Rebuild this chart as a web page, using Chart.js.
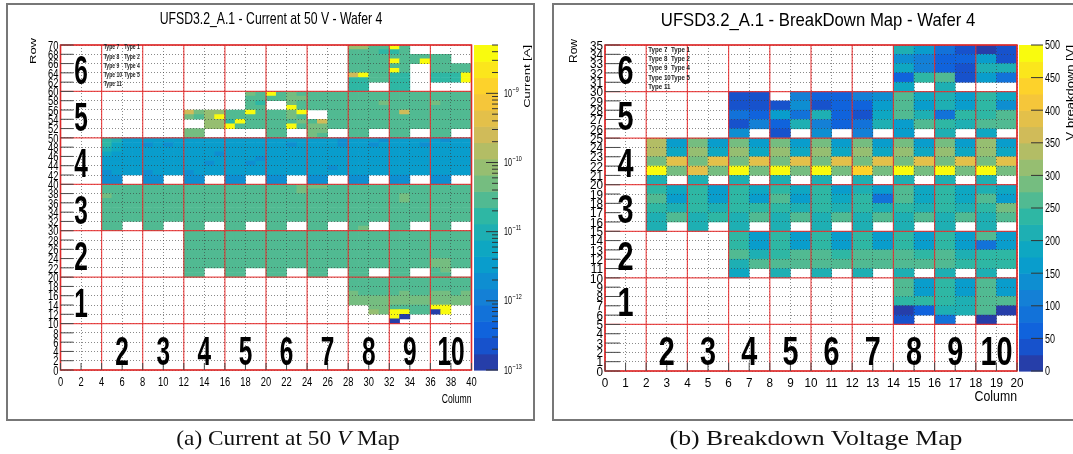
<!DOCTYPE html>
<html>
<head>
<meta charset="utf-8">
<title>UFSD3.2_A.1 - Wafer 4 maps</title>
<script src="https://cdn.jsdelivr.net/npm/chart.js@4/dist/chart.umd.min.js"></script>
<style>
  html, body { margin: 0; padding: 0; background: #fff; }
  body { position: relative; width: 1073px; height: 454px; overflow: hidden; }
  .frame { position: absolute; box-sizing: border-box; border: 2px solid #777; }
  canvas { position: absolute; top: 0; }
  .caption { position: absolute; top: 427px; font-family: "Liberation Serif", serif; font-size: 22px;
             line-height: 22px; white-space: nowrap; color: #111; }
</style>
</head>
<body>
<div class="frame" style="left:6px;top:3px;width:529px;height:418px"></div>
<div class="frame" style="left:552px;top:3px;width:540px;height:418px"></div>
<canvas id="currentMap" width="545" height="454" style="left:0"></canvas>
<canvas id="breakdownMap" width="528" height="454" style="left:545px"></canvas>
<div class="caption" style="left:288px;transform:translateX(-50%) scaleX(1.06)">(a) Current at 50 <i>V</i> Map</div>
<div class="caption" style="left:816px;transform:translateX(-50%) scaleX(1.17)">(b) Breakdown Voltage Map</div>
<script>
const _ = null;

// Current at 50 V: one string per row, from row 69 (top) down to row 0,
// 40 columns in groups of ten. Each character is the colour-scale bin of
// the cell: '.' = no value, 0-9 then a-j = bins 10-19.
const CURRENT_BINS = [
  '.......... .......... ........cc aaja......', // 69
  '.......... .......... ........aa a99a......',
  '.......... .......... ........aa aaaaaaaa..',
  '.......... .......... ........aa aajaajaa..',
  '.......... .......... ........aa aaaa..aaaa', // 65
  '.......... .......... ........aa aaja..aaaa',
  '.......... .......... ........ej aa99..999j',
  '.......... .......... ........99 aa99..999j',
  '.......... .......... ........99 ..99......',
  '.......... .......... ........99 ..99......', // 60
  '.......... ........ba jabaaaaaaa aaaaaaaaaa',
  '.......... ........aa aabbaaaaaa aaaaaaaaaa',
  '.......... ........a9 ..baaaaaaa abaaaabaaa',
  '.......... ........aa ..jaaaaaaa aaaaaaaaaa',
  '.......... ..ebccaaja aabj..aaaa aaaeaaaaaa', // 55
  '.......... ..bacjaaaa aaba..aaaa aaaaaaaaaa',
  '.......... ....cc9jaa aaabaeaaaa aaaaaaaaaa',
  '.......... ....ccjaaa aajabbaaaa aaaaaaaaaa',
  '.......... ..bb...... aa..bb..aa ..aa..aa..',
  '.......... ..bb...... aa..ba..aa ..aa..aa..', // 50
  '....986666 6666666666 6666666566 6566666566',
  '....976656 5666666666 6656666566 5666656666',
  '....876666 6666666666 6666666666 6666666666',
  '....766666 6666656666 6666666666 6666666666',
  '....666666 6666666665 6666666666 6666666666', // 45
  '....666666 6666566656 6666666666 6666666666',
  '....666666 6666666666 6666665666 6666666666',
  '....566656 6656666666 6666666666 6666666666',
  '....55..55 ..55..55.. 55..55..55 ..55..55..',
  '....55..55 ..55..55.. 55..55..55 ..55..55..', // 40
  '....aaaaaa aaaaaaaaaa aaabbbaaaa aaaaaaaaaa',
  '....aaaaaa aaaaaaaaaa aaabaaaaaa aaaaaaaaaa',
  '....baaaaa aaaaaaaaaa aaaaaaaaaa aaabaaaaaa',
  '....aaaaaa aaaaaaaaaa aaaaaaaaaa aaabaaaaaa',
  '....aaaaaa aaaaaaaaaa aaaaaaaaaa aaaaaaaaaa', // 35
  '....aaaaaa aaaaaaaaaa aaaaaaaaaa aaaaaaaaaa',
  '....aaaaaa aaaaaaaaaa aaaaaaaaaa aaaaaaaaaa',
  '....aaaaaa aaaaaaaaaa aaaaaaaaaa aaaaaaaaaa',
  '....aa..aa ..aa..aa.. aa..aa..aa ..aa..aa..',
  '....aa..aa ..aa..aa.. aa..aa..ab ..aa..aa..', // 30
  '.......... ..aaaaaaaa aaaaaaaaaa aaaaaaaaaa',
  '.......... ..aaaaaaaa aaaaaaaaaa aaaaaaaaaa',
  '.......... ..aaaaaaaa aaaaaaaaaa aaaaaaaaaa',
  '.......... ..aaaaaaaa aaaaaaaaaa aaaaaaaaaa',
  '.......... ..aaaaaaaa aaaaaaaaaa aaaaaaaaaa', // 25
  '.......... ..aaaaaaaa aaaaaaaaaa aaaaaaaaaa',
  '.......... ..aaaaaaaa aaaaaaaaaa aaaaaabbaa',
  '.......... ..aaaaaaaa aaaaaaaaaa aaaaaabbaa',
  '.......... ..aa..aa.. aa..aa..aa ..aa..ab..',
  '.......... ..aa..aa.. aa..aa..aa ..aa..aa..', // 20
  '.......... .......... ........aa aaaaaaaaaa',
  '.......... .......... ........aa aaaaaaaaaa',
  '.......... .......... ........aa aaaaaaaaaa',
  '.......... .......... ........ba aaabaabbab',
  '.......... .......... ........bb bbbbbbbbbb', // 15
  '.......... .......... ........bb bbbbbbbbbb',
  '.......... .......... .......... bbaaaajj..',
  '.......... .......... .......... cbjjaa0j..',
  '.......... .......... .......... ..j0......',
  '.......... .......... .......... ..0.......', // 10
  '.......... .......... .......... ..........',
  '.......... .......... .......... ..........',
  '.......... .......... .......... ..........',
  '.......... .......... .......... ..........',
  '.......... .......... .......... ..........', // 5
  '.......... .......... .......... ..........',
  '.......... .......... .......... ..........',
  '.......... .......... .......... ..........',
  '.......... .......... .......... ..........',
  '.......... .......... .......... ..........'  // 0
];

// Breakdown voltage [V] per pad, rows 34 (top) down to 0, columns 0-19.
const BREAKDOWN_V = [
  [_,_,_,_,_,_,_,_,_,_,_,_,_,_,210,160,85,48,20,45],          // 34
  [_,_,_,_,_,_,_,_,_,_,_,_,_,_,140,115,70,60,150,42],
  [_,_,_,_,_,_,_,_,_,_,_,_,_,_,185,105,62,40,215,205],
  [_,_,_,_,_,_,_,_,_,_,_,_,_,_,68,238,258,38,165,85],
  [_,_,_,_,_,_,_,_,_,_,_,_,_,_,185,_,212,_,_,_],              // 30
  [_,_,_,_,_,_,38,42,_,118,62,72,105,140,262,190,218,165,240,182],
  [_,_,_,_,_,_,40,48,46,135,45,70,52,155,260,160,210,165,235,145],
  [_,_,_,_,_,_,90,65,160,90,215,62,45,180,255,215,95,230,240,258],
  [_,_,_,_,_,_,45,115,65,215,120,60,85,210,160,255,230,220,260,255],
  [_,_,_,_,_,_,135,_,40,_,125,_,100,_,165,_,210,_,180,_],     // 25
  [_,_,335,165,290,168,292,165,290,170,292,165,295,168,298,165,292,168,300,165],
  [_,_,340,178,305,180,302,178,305,182,300,178,305,180,302,182,305,178,308,180],
  [_,_,288,388,285,385,290,388,285,390,288,385,290,388,285,385,290,388,285,392],
  [_,_,490,285,390,288,490,285,488,282,490,285,445,288,490,285,488,285,490,282],
  [_,_,212,_,215,_,210,_,212,_,215,_,210,_,212,_,215,_,212,_], // 20
  [_,_,240,180,232,165,238,182,235,180,238,165,215,165,250,185,238,182,212,180],
  [_,_,255,160,245,165,240,160,250,160,235,175,238,95,255,180,238,178,252,165],
  [_,_,232,215,235,212,240,238,235,212,240,215,235,215,245,212,240,215,232,292],
  [_,_,215,258,212,240,215,258,215,255,212,258,215,255,212,258,215,255,212,262],
  [_,_,212,_,215,_,210,_,212,_,215,_,210,_,212,_,215,_,210,_], // 15
  [_,_,_,_,_,_,240,165,238,162,242,165,240,160,245,165,238,162,258,165],
  [_,_,_,_,_,_,235,158,240,160,235,162,238,158,232,165,240,160,92,162],
  [_,_,_,_,_,_,255,212,240,258,255,235,258,255,258,238,255,215,235,232],
  [_,_,_,_,_,_,215,258,255,258,255,258,255,258,255,258,255,235,232,225],
  [_,_,_,_,_,_,195,_,200,_,205,_,205,_,200,_,205,_,200,_],     // 10
  [_,_,_,_,_,_,_,_,_,_,_,_,_,_,262,160,235,158,258,162],
  [_,_,_,_,_,_,_,_,_,_,_,_,_,_,258,165,238,150,262,160],
  [_,_,_,_,_,_,_,_,_,_,_,_,_,_,240,228,238,215,255,265],
  [_,_,_,_,_,_,_,_,_,_,_,_,_,_,20,62,212,218,255,15],
  [_,_,_,_,_,_,_,_,_,_,_,_,_,_,40,_,90,_,20,_],               // 5
  [_,_,_,_,_,_,_,_,_,_,_,_,_,_,_,_,_,_,_,_],
  [_,_,_,_,_,_,_,_,_,_,_,_,_,_,_,_,_,_,_,_],
  [_,_,_,_,_,_,_,_,_,_,_,_,_,_,_,_,_,_,_,_],
  [_,_,_,_,_,_,_,_,_,_,_,_,_,_,_,_,_,_,_,_],
  [_,_,_,_,_,_,_,_,_,_,_,_,_,_,_,_,_,_,_,_]                   // 0
];

const CURRENT_COL_TICKS = [0,2,4,6,8,10,12,14,16,18,20,22,24,26,28,30,32,34,36,38,40];
const CURRENT_ROW_TICKS = [0,2,4,6,8,10,12,14,16,18,20,22,24,26,28,30,32,34,36,38,40,
                           42,44,46,48,50,52,54,56,58,60,62,64,66,68,70];
const BD_COL_TICKS = [0,1,2,3,4,5,6,7,8,9,10,11,12,13,14,15,16,17,18,19,20];
const BD_ROW_TICKS = [0,1,2,3,4,5,6,7,8,9,10,11,12,13,14,15,16,17,18,19,20,
                      21,22,23,24,25,26,27,28,29,30,31,32,33,34,35];
const CURRENT_DECADES = [-13,-12,-11,-10,-9];
const BD_Z_TICKS = [0,50,100,150,200,250,300,350,400,450,500];
const SENSOR_COLUMNS = ['2','3','4','5','6','7','8','9','10'];
const SENSOR_ROWS = ['1','2','3','4','5','6'];
const TYPE_PAIRS = [['Type 7','Type 1'],['Type 8','Type 2'],['Type 9','Type 4'],['Type 10','Type 5'],['Type 11','']];

// ---- colour scale: ROOT "bird" palette split in 20 contours ----
const NBINS = 20;
const CUR_LOG_MIN = -13, CUR_LOG_MAX = Math.log10(5e-9);
const CUR_STEP = (CUR_LOG_MAX - CUR_LOG_MIN) / NBINS;
const BD_MAX = 500, BD_STEP = BD_MAX / NBINS;
const BIN_CODES = '0123456789abcdefghij';

const BIRD = [
  [0.000, 0.2082, 0.1664, 0.5293], [0.125, 0.0592, 0.3599, 0.8684],
  [0.250, 0.0780, 0.5041, 0.8385], [0.375, 0.0232, 0.6419, 0.7914],
  [0.500, 0.1802, 0.7178, 0.6425], [0.625, 0.5301, 0.7492, 0.4662],
  [0.750, 0.8186, 0.7328, 0.3499], [0.875, 0.9956, 0.7862, 0.1968],
  [1.000, 0.9764, 0.9832, 0.0539]
];
function bird(f) {
  f = Math.max(0, Math.min(1, f));
  for (let i = 1; i < BIRD.length; i++) {
    if (f <= BIRD[i][0]) {
      const a = BIRD[i - 1], b = BIRD[i], t = (f - a[0]) / (b[0] - a[0]);
      const c = [1, 2, 3].map(j => Math.round(255 * (a[j] + t * (b[j] - a[j]))));
      return `rgb(${c[0]},${c[1]},${c[2]})`;
    }
  }
  return 'rgb(249,251,14)';
}
const binColor = b => bird((Math.max(0, Math.min(NBINS - 1, b)) + 0.99) / NBINS);
const currentColor = v => binColor(Math.floor((Math.log10(v) - CUR_LOG_MIN) / CUR_STEP));
const breakdownColor = v => binColor(Math.floor(v / BD_STEP));

// ---- cells: floating bars one column wide, spanning one row ----
const currentCells = [];
CURRENT_BINS.forEach((line, i) => {
  const row = CURRENT_BINS.length - 1 - i;
  [...line.replace(/ /g, '')].forEach((ch, col) => {
    const b = BIN_CODES.indexOf(ch);
    if (b < 0) return;
    currentCells.push({ x: col + 0.5, y: [row, row + 1], v: Math.pow(10, CUR_LOG_MIN + (b + 0.5) * CUR_STEP) });
  });
});
const breakdownCells = [];
BREAKDOWN_V.forEach((vals, i) => {
  const row = BREAKDOWN_V.length - 1 - i;
  vals.forEach((v, col) => {
    if (v === null) return;
    breakdownCells.push({ x: col + 0.5, y: [row, row + 1], v });
  });
});

// ---- drawing helpers ----
const SANS = '"Liberation Sans", Arial, Helvetica, sans-serif';
function text(ctx, s, x, y, o) {
  ctx.save();
  ctx.translate(x, y);
  ctx.scale(o.k, 1);
  if (o.rot) ctx.rotate(-Math.PI / 2);
  ctx.font = o.font;
  ctx.fillStyle = o.color || '#000';
  ctx.textAlign = o.align || 'left';
  ctx.textBaseline = o.base || 'alphabetic';
  ctx.fillText(s, 0, 0);
  ctx.restore();
}
function seg(ctx, x0, y0, x1, y1) {
  ctx.beginPath(); ctx.moveTo(x0, y0); ctx.lineTo(x1, y1); ctx.stroke();
}

// Frame, sensor boundaries, axes, labels and palette of a ROOT style map
function makeDecor(cfg) {
  return {
    id: 'decor',
    afterDraw(chart) {
      const ctx = chart.ctx, X = chart.scales.x, Y = chart.scales.y, Z = chart.scales.z, A = chart.chartArea;
      const k = cfg.k;
      ctx.save();

      // sensor boundaries
      ctx.strokeStyle = 'rgba(232,48,48,0.85)';
      ctx.lineWidth = 1.2;
      cfg.sensorCols.forEach(c => { const px = X.getPixelForValue(c); seg(ctx, px, A.top, px, A.bottom); });
      cfg.sensorRows.forEach(r => { const py = Y.getPixelForValue(r); seg(ctx, A.left, py, A.right, py); });
      ctx.strokeStyle = '#dd2b2b';
      ctx.lineWidth = 1.5;
      ctx.strokeRect(A.left, A.top, A.right - A.left, A.bottom - A.top);

      // tick marks
      ctx.strokeStyle = '#4a4a4a';
      ctx.lineWidth = 1;
      cfg.xTicks.forEach(t => { const px = X.getPixelForValue(t); seg(ctx, px, A.bottom, px, A.bottom - cfg.xTickLen); });
      cfg.yTicks.forEach(t => { const py = Y.getPixelForValue(t); seg(ctx, A.left, py, A.left + cfg.yTickLen, py); });

      // tick labels
      const tf = cfg.tickFont + 'px ' + SANS;
      cfg.xTicks.forEach(t => text(ctx, String(t), X.getPixelForValue(t), cfg.xLabelY, { font: tf, k: cfg.kTick, align: 'center' }));
      cfg.yTicks.forEach(t => text(ctx, String(t), A.left - 2, Y.getPixelForValue(t) + cfg.tickFont * 0.36,
        { font: tf, k: cfg.kTick, align: 'right' }));

      // axis titles and plot title
      text(ctx, 'Column', A.right, cfg.colTitleY, { font: cfg.colTitleSize + 'px ' + SANS, k, align: 'right' });
      text(ctx, 'Row', cfg.rowTitleX, cfg.rowTitleEnd, { font: cfg.rowTitleSize + 'px ' + SANS, k, align: 'right', base: 'middle', rot: true });
      text(ctx, cfg.title, cfg.titleX, cfg.titleY, { font: cfg.titleSize + 'px ' + SANS, k, align: 'center' });

      // sensor numbering
      const df = 'bold 40px ' + SANS;
      SENSOR_COLUMNS.forEach((s, i) => text(ctx, s, X.getPixelForValue(cfg.colDigitX0 + i * cfg.colDigitDX),
        Y.getPixelForValue(cfg.colDigitRow) + 14.3, { font: df, k: cfg.kDigit, align: 'center' }));
      SENSOR_ROWS.forEach((s, i) => text(ctx, s, X.getPixelForValue(cfg.rowDigitCol),
        Y.getPixelForValue(cfg.rowDigitY0 + i * cfg.rowDigitDY) + 14.3, { font: df, k: cfg.kDigit, align: 'center' }));

      // type legend
      const lf = 'bold 7px ' + SANS;
      TYPE_PAIRS.forEach((p, i) => {
        const py = Y.getPixelForValue(cfg.legendRow0 - i * cfg.legendDRow);
        text(ctx, p[0], X.getPixelForValue(cfg.legendX1), py, { font: lf, k, base: 'middle', color: '#222' });
        if (p[1]) text(ctx, p[1], X.getPixelForValue(cfg.legendX2), py, { font: lf, k, base: 'middle', color: '#222' });
      });

      // palette
      const bx = A.right + cfg.barGap, bw = cfg.barWidth;
      for (let i = 0; i < NBINS; i++) {
        const lo = cfg.log ? Math.pow(10, CUR_LOG_MIN + i * CUR_STEP) : i * BD_STEP;
        const hi = cfg.log ? Math.pow(10, CUR_LOG_MIN + (i + 1) * CUR_STEP) : (i + 1) * BD_STEP;
        const y0 = Z.getPixelForValue(hi), y1 = Z.getPixelForValue(lo);
        ctx.fillStyle = binColor(i);
        ctx.fillRect(bx, y0, bw, y1 - y0 + 0.6);
      }
      ctx.strokeStyle = '#333';
      ctx.lineWidth = 1;
      const bf = cfg.barFont + 'px ' + SANS;
      if (cfg.log) {
        CURRENT_DECADES.forEach(e => {
          const py = Z.getPixelForValue(Math.pow(10, e));
          seg(ctx, bx + bw, py, bx + bw - 12, py);
          for (let m = 2; m <= 9; m++) {
            const v = m * Math.pow(10, e);
            if (Math.log10(v) > CUR_LOG_MAX) break;
            const pm = Z.getPixelForValue(v);
            seg(ctx, bx + bw, pm, bx + bw - 6, pm);
          }
          const lx = bx + bw + cfg.barLabelGap;
          text(ctx, '10', lx, py + 3.6, { font: bf, k: cfg.kBar });
          ctx.font = bf;
          const w = ctx.measureText('10').width * cfg.kBar;
          text(ctx, '\u2212' + Math.abs(e), lx + w + 0.5, py - 1.5, { font: '7.5px ' + SANS, k: cfg.kBar });
        });
      } else {
        BD_Z_TICKS.forEach(t => {
          const py = Z.getPixelForValue(t);
          seg(ctx, bx + bw, py, bx + bw - 12, py);
          text(ctx, String(t), bx + bw + cfg.barLabelGap, py + cfg.barFont * 0.36, { font: bf, k: cfg.kBar });
        });
      }
      text(ctx, cfg.zTitle, cfg.zTitleX, A.top, { font: cfg.zTitleSize + 'px ' + SANS, k, align: 'right', base: 'middle', rot: true });
      ctx.restore();
    }
  };
}

function heatMap(canvas, cells, colorOf, cfg) {
  const gridOpts = { color: 'rgba(60,60,60,0.6)', lineWidth: 1, drawTicks: false, z: 1, offset: false };
  const borderOpts = { display: false, dash: [1, 2] };
  return new Chart(canvas, {
    type: 'bar',
    data: {
      datasets: [{
        data: cells,
        backgroundColor: c => (c.raw ? colorOf(c.raw.v) : 'transparent'),
        borderWidth: 0,
        barPercentage: 1,
        categoryPercentage: 1,
        grouped: false
      }]
    },
    options: {
      responsive: false,
      animation: false,
      devicePixelRatio: 1,
      events: [],
      layout: { padding: { left: cfg.padLeft, right: 0, top: 45, bottom: cfg.padBottom }, autoPadding: false },
      plugins: { legend: { display: false }, tooltip: { enabled: false } },
      scales: {
        x: {
          type: 'linear', min: 0, max: cfg.ncol, offset: false,
          ticks: { display: false, stepSize: cfg.step, maxTicksLimit: 100, autoSkip: false },
          grid: gridOpts, border: borderOpts,
          afterFit: s => { s.height = 0; }
        },
        y: {
          type: 'linear', min: 0, max: cfg.nrow,
          ticks: { display: false, stepSize: cfg.step, maxTicksLimit: 100, autoSkip: false },
          grid: gridOpts, border: borderOpts,
          afterFit: s => { s.width = 0; }
        },
        z: {
          type: cfg.log ? 'logarithmic' : 'linear', position: 'right',
          min: cfg.zMin, max: cfg.zMax,
          ticks: { display: false }, grid: { display: false }, border: { display: false },
          afterFit: s => { s.width = cfg.zWidth; }
        }
      }
    },
    plugins: [makeDecor(cfg)]
  });
}

heatMap(document.getElementById('currentMap'), currentCells, currentColor, {
  ncol: 40, nrow: 70, step: 2, padLeft: 60.5, padBottom: 84, zWidth: 73.5,
  log: true, zMin: 1e-13, zMax: 5e-9,
  k: 0.72, kTick: 0.72, kDigit: 0.61, kBar: 0.72,
  title: 'UFSD3.2_A.1 - Current at 50 V - Wafer 4', titleX: 271, titleY: 24, titleSize: 17,
  sensorCols: [0, 4, 8, 12, 16, 20, 24, 28, 32, 36, 40], sensorRows: [0, 10, 20, 30, 40, 50, 60, 70],
  xTicks: CURRENT_COL_TICKS, yTicks: CURRENT_ROW_TICKS, xTickLen: 7, yTickLen: 13,
  tickFont: 13, xLabelY: 386,
  colTitleY: 403, colTitleSize: 12, rowTitleX: 33, rowTitleEnd: 38, rowTitleSize: 13,
  colDigitX0: 6, colDigitDX: 4, colDigitRow: 4.2, rowDigitCol: 2, rowDigitY0: 14.6, rowDigitDY: 10,
  legendX1: 4.2, legendX2: 6.2, legendRow0: 69.5, legendDRow: 2,
  barGap: 2.5, barWidth: 24, barFont: 10, barLabelGap: 6,
  zTitle: 'Current [A]', zTitleX: 527.5, zTitleSize: 13
});

heatMap(document.getElementById('breakdownMap'), breakdownCells, breakdownColor, {
  ncol: 20, nrow: 35, step: 1, padLeft: 60, padBottom: 83, zWidth: 56,
  log: false, zMin: 0, zMax: BD_MAX,
  k: 0.88, kTick: 0.9, kDigit: 0.72, kBar: 0.75,
  title: 'UFSD3.2_A.1 - BreakDown Map - Wafer 4', titleX: 273, titleY: 26, titleSize: 19,
  sensorCols: [0, 2, 4, 6, 8, 10, 12, 14, 16, 18, 20], sensorRows: [0, 5, 10, 15, 20, 25, 30, 35],
  xTicks: BD_COL_TICKS, yTicks: BD_ROW_TICKS, xTickLen: 8.5, yTickLen: 15,
  tickFont: 13, xLabelY: 387,
  colTitleY: 401, colTitleSize: 14, rowTitleX: 29, rowTitleEnd: 39, rowTitleSize: 12,
  colDigitX0: 3, colDigitDX: 2, colDigitRow: 2.2, rowDigitCol: 1, rowDigitY0: 7.4, rowDigitDY: 5,
  legendX1: 2.1, legendX2: 3.2, legendRow0: 34.5, legendDRow: 1,
  barGap: 2, barWidth: 24, barFont: 12, barLabelGap: 2,
  zTitle: 'V breakdown [V]', zTitleX: 526, zTitleSize: 13
});
</script>
</body>
</html>
